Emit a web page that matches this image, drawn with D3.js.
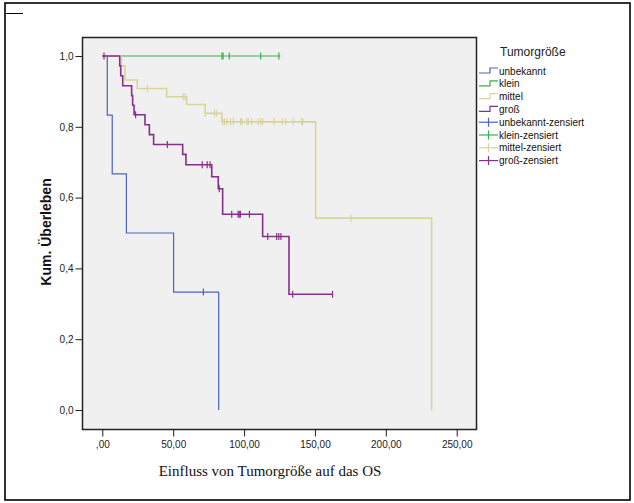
<!DOCTYPE html>
<meta charset="utf-8">
<style>
body { margin: 0; background: #fff; }
text { font-family: "Liberation Sans", Arial, sans-serif; }
.tick text { font-size: 10px; fill: #222; }
.tick line { stroke: #222; }
</style>
<body>
<script src="https://d3js.org/d3.v7.min.js"></script>
<script>

var width = 634, height = 503;

// Kaplan-Meier steps: [time, survival]
var groups = ["unbekannt", "klein", "mittel", "groß"];
var colors = ["#4a64b8", "#3cae4a", "#d8d49c", "#86308a"];

var unbekanntSteps = [[0,1],[3.5,0.833],[7,0.667],[17,0.5],[50.3,0.333],[82.1,0]];
var unbekanntCens = [71.3];

var kleinSteps = [[0,1],[125.5,1]];
var kleinCens = [84.4,85.2,89.6,111.7,124.6];

var mittelSteps = [[0,1],[13.5,0.972],[16,0.932],[24.7,0.908],[45.4,0.885],[59.5,0.863],
  [72.6,0.838],[84.4,0.814],[150.5,0.542],[232.3,0]];
var mittelCens = [31.8,57.2,58.4,72.6,79,80.4,85,86.2,87.8,90.5,92.4,97.6,98.5,101.9,103,
  105.4,110,111.7,113.1,121.3,127,129.4,134.7,140.6,141.4,175.4];

var grossSteps = [[0,1],[12.3,0.972],[13,0.944],[14.4,0.916],[20.7,0.888],[21.4,0.861],
  [22.4,0.834],[30.1,0.806],[33.2,0.778],[36.2,0.75],[56.7,0.722],[59,0.693],[77.2,0.659],
  [81.8,0.625],[84.9,0.553],[113.1,0.49],[131.7,0.327],[162.4,0.327]];
var grossCens = [1.2,23.5,45.9,70.5,74,76,82.5,91.3,95.8,96.6,97.4,103.8,116.7,123,124.5,
  126,134.3,162.4];

var xTicks = [0,50,100,150,200,250];
var yTicks = [0,0.2,0.4,0.6,0.8,1.0];

var allSteps = [unbekanntSteps, kleinSteps, mittelSteps, grossSteps];
var allCens = [unbekanntCens, kleinCens, mittelCens, grossCens];

var svg = d3.select("body").append("svg")
    .attr("width", width)
    .attr("height", height);

// outer border
svg.append("rect")
  .attr("x", 5).attr("y", 3).attr("width", 625).attr("height", 497)
  .attr("fill", "none").attr("stroke", "#000").attr("stroke-width", 1.6);
svg.append("line")
  .attr("x1", 5).attr("x2", 23).attr("y1", 13.5).attr("y2", 13.5)
  .attr("stroke", "#000").attr("stroke-width", 1);

var frame = {left: 82.5, top: 37.5, right: 476.5, bottom: 429.5};

svg.append("rect")
  .attr("x", frame.left).attr("y", frame.top)
  .attr("width", frame.right - frame.left).attr("height", frame.bottom - frame.top)
  .attr("fill", "#f0f0f0");

var x = d3.scaleLinear().domain([0, 250]).range([102.3, 456.7]);
var y = d3.scaleLinear().domain([0, 1]).range([410, 56]);

function survAt(steps, t) {
  var s = steps[0][1];
  steps.forEach(function(d){ if (d[0] <= t) s = d[1]; });
  return s;
}

var line = d3.line()
  .x(function(d){ return x(d[0]); })
  .y(function(d){ return y(d[1]); })
  .curve(d3.curveStepAfter);

allSteps.forEach(function(steps, i){
  svg.append("path")
    .attr("d", line(steps))
    .attr("fill", "none")
    .attr("stroke", colors[i])
    .attr("stroke-width", i >= 2 ? 1.6 : 1.2);
});

allSteps.forEach(function(steps, i){
  svg.selectAll(".cens" + i)
    .data(allCens[i])
    .enter().append("line")
    .attr("x1", function(d){ return x(d); })
    .attr("x2", function(d){ return x(d); })
    .attr("y1", function(d){ return y(survAt(steps, d)) - 3.5; })
    .attr("y2", function(d){ return y(survAt(steps, d)) + 3.5; })
    .attr("stroke", colors[i])
    .attr("stroke-width", 1.2);
});

// frame
svg.append("rect")
  .attr("x", frame.left).attr("y", frame.top)
  .attr("width", frame.right - frame.left).attr("height", frame.bottom - frame.top)
  .attr("fill", "none").attr("stroke", "#222").attr("stroke-width", 1.5);

var yAxis = svg.append("g")
  .attr("transform", "translate(" + frame.left + ",0)")
  .call(d3.axisLeft(y).tickValues(yTicks).tickSize(7).tickPadding(2)
    .tickFormat(function(d){ return d.toFixed(1).replace(".", ","); }));
yAxis.select(".domain").remove();

var xAxis = svg.append("g")
  .attr("transform", "translate(0," + frame.bottom + ")")
  .call(d3.axisBottom(x).tickValues(xTicks).tickSize(7).tickPadding(4)
    .tickFormat(function(d){ return d === 0 ? ",00" : d.toFixed(2).replace(".", ","); }));
xAxis.select(".domain").remove();

svg.append("text")
  .attr("transform", "translate(51,232) rotate(-90)")
  .attr("text-anchor", "middle")
  .attr("font-size", "14px")
  .attr("font-weight", "bold")
  .attr("fill", "#111")
  .text("Kum. Überleben");

svg.append("text")
  .attr("x", 270).attr("y", 476)
  .attr("text-anchor", "middle")
  .style("font-family", "'Liberation Serif', 'Times New Roman', serif")
  .attr("font-size", "15px")
  .attr("fill", "#111")
  .text("Einfluss von Tumorgröße auf das OS");

// legend
var legend = svg.append("g");
legend.append("text")
  .attr("x", 500).attr("y", 56)
  .attr("font-size", "12px").attr("fill", "#222")
  .text("Tumorgröße");

var legendLabels = groups.concat(groups.map(function(g){ return g + "-zensiert"; }));
var rowY = function(i){ return 71 + i * 12.8; };

legend.selectAll(".item")
  .data(legendLabels)
  .enter().append("text")
  .attr("x", 499).attr("y", function(d, i){ return rowY(i) + 3.5; })
  .attr("font-size", "10px").attr("fill", "#111")
  .text(function(d){ return d; });

legend.selectAll(".sym")
  .data(groups)
  .enter().append("path")
  .attr("d", function(d, i){
    var yy = rowY(i);
    return "M479," + (yy + 2) + "H490V" + (yy - 3) + "H498";
  })
  .attr("fill", "none")
  .attr("stroke", function(d, i){ return colors[i]; })
  .attr("stroke-width", 1.2);

groups.forEach(function(g, i){
  var yy = rowY(i + 4);
  legend.append("line")
    .attr("x1", 479).attr("x2", 498).attr("y1", yy).attr("y2", yy)
    .attr("stroke", colors[i]).attr("stroke-width", 1.2);
  legend.append("line")
    .attr("x1", 488.5).attr("x2", 488.5).attr("y1", yy - 4.5).attr("y2", yy + 4.5)
    .attr("stroke", colors[i]).attr("stroke-width", 1.2);
});

</script>
